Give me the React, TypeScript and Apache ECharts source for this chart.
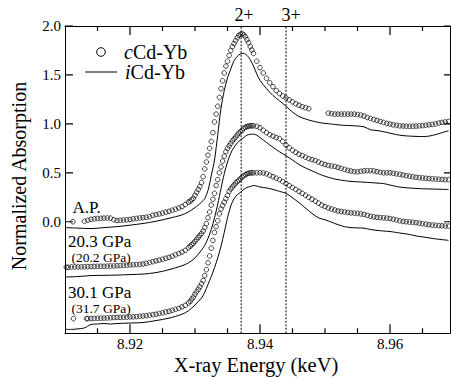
import React, { useEffect, useRef } from "react";
import * as echarts from "echarts";

const X_MIN = 8.91;
const X_MAX = 8.96923;
const Y_MIN = -1.14;
const Y_MAX = 2.0;
const X_MAJOR = [8.92, 8.94, 8.96];
const X_MINOR = [8.915, 8.925, 8.93, 8.935, 8.945, 8.95, 8.955, 8.965];
const Y_TICKS = [0, 0.5, 1, 1.5, 2];
const EDGES = [8.9371, 8.944];
const EDGE_LABELS = ["2+", "3+"];
const SAMPLE_LABELS = ["A.P.", "20.3 GPa", "(20.2 GPa)", "30.1 GPa", "(31.7 GPa)"];

// cCd-Yb (circles), ambient pressure
const AP_C = [
  [8.9112, 0.0],
  [8.913, 0.005], [8.9135, 0.015], [8.914, 0.025], [8.9145, 0.03], [8.915, 0.033], [8.9155, 0.035], [8.916, 0.037], [8.9165, 0.038], [8.917, 0.036], [8.9175, 0.02], [8.918, 0.012], [8.9185, 0.015], [8.919, 0.018], [8.9195, 0.02], [8.92, 0.024], [8.9205, 0.03], [8.921, 0.034], [8.9215, 0.038], [8.922, 0.042], [8.9225, 0.046], [8.923, 0.052], [8.9235, 0.065], [8.924, 0.073], [8.9245, 0.08], [8.925, 0.088], [8.9255, 0.097], [8.926, 0.107], [8.9265, 0.118], [8.927, 0.128], [8.9275, 0.14], [8.928, 0.155], [8.9285, 0.175],
  [8.929, 0.2], [8.92925, 0.21], [8.9295, 0.225], [8.92975, 0.24], [8.93, 0.27], [8.93025, 0.3], [8.9305, 0.33], [8.93075, 0.36], [8.931, 0.4], [8.93125, 0.46], [8.9315, 0.54], [8.93175, 0.61], [8.932, 0.68], [8.93225, 0.75], [8.9325, 0.82], [8.93275, 0.91], [8.933, 1.02], [8.93325, 1.1], [8.9335, 1.18], [8.93375, 1.27], [8.934, 1.36], [8.93425, 1.44], [8.9345, 1.52], [8.93475, 1.59], [8.935, 1.64], [8.93525, 1.7], [8.9355, 1.75], [8.93575, 1.79], [8.936, 1.82], [8.93625, 1.85], [8.9365, 1.88], [8.93675, 1.905], [8.937, 1.915], [8.93725, 1.92], [8.9375, 1.91], [8.93775, 1.89], [8.938, 1.86], [8.93825, 1.83], [8.9385, 1.79], [8.93875, 1.755], [8.939, 1.72],
  [8.9395, 1.64], [8.94, 1.575], [8.9405, 1.52], [8.941, 1.465], [8.9415, 1.42], [8.942, 1.38], [8.9425, 1.34], [8.943, 1.31], [8.9435, 1.285], [8.944, 1.265], [8.9445, 1.245], [8.945, 1.225], [8.9455, 1.205], [8.946, 1.19], [8.9465, 1.175], [8.947, 1.165], [8.9475, 1.155],
  [8.9505, 1.11], [8.951, 1.105], [8.9515, 1.1], [8.952, 1.1], [8.9525, 1.1], [8.953, 1.1], [8.9535, 1.1], [8.954, 1.1], [8.9545, 1.1], [8.955, 1.095], [8.9555, 1.09], [8.956, 1.08], [8.9565, 1.065], [8.957, 1.055], [8.9575, 1.045], [8.958, 1.035], [8.9585, 1.025], [8.959, 1.015], [8.9595, 1.005], [8.96, 0.998], [8.9605, 0.99], [8.961, 0.985], [8.9615, 0.98], [8.962, 0.978], [8.9625, 0.976], [8.963, 0.975], [8.9635, 0.975], [8.964, 0.977], [8.9645, 0.98], [8.965, 0.983], [8.9655, 0.986], [8.966, 0.99], [8.9665, 0.995], [8.967, 1.0], [8.9675, 1.008], [8.968, 1.015], [8.9685, 1.02], [8.969, 1.025],
];

// iCd-Yb (line), ambient pressure
const AP_I = [
  [8.91, -0.06], [8.912, -0.065], [8.914, -0.07], [8.916, -0.06], [8.918, -0.05], [8.92, -0.035], [8.922, -0.018], [8.924, 0.005], [8.926, 0.035], [8.928, 0.07], [8.929, 0.1], [8.93, 0.145], [8.9305, 0.17], [8.931, 0.2], [8.9315, 0.235], [8.932, 0.32], [8.9325, 0.47], [8.933, 0.63], [8.9335, 0.89], [8.934, 1.16], [8.9345, 1.34], [8.935, 1.47], [8.9355, 1.56], [8.936, 1.645], [8.9365, 1.69], [8.937, 1.715], [8.9375, 1.72], [8.938, 1.7], [8.9385, 1.655], [8.939, 1.59], [8.9395, 1.51], [8.94, 1.445], [8.941, 1.36], [8.942, 1.29], [8.943, 1.235], [8.944, 1.18], [8.945, 1.12], [8.946, 1.075], [8.947, 1.05], [8.948, 1.03], [8.949, 1.015], [8.95, 1.005], [8.951, 0.998], [8.952, 0.99], [8.953, 0.985], [8.954, 0.982], [8.955, 0.978], [8.956, 0.97], [8.957, 0.94], [8.958, 0.932], [8.959, 0.92], [8.96, 0.905], [8.961, 0.89], [8.962, 0.88], [8.963, 0.875], [8.964, 0.872], [8.965, 0.87], [8.966, 0.875], [8.967, 0.89], [8.968, 0.91], [8.969, 0.93],
];

// cCd-Yb (circles), 20.3 GPa
const P20_C = [
  [8.9102, -0.465], [8.9105, -0.465], [8.911, -0.463], [8.9115, -0.462], [8.912, -0.462], [8.9125, -0.461], [8.913, -0.46], [8.9135, -0.459], [8.914, -0.458], [8.9145, -0.457], [8.915, -0.456], [8.9155, -0.455], [8.916, -0.455], [8.9165, -0.454], [8.917, -0.453], [8.9175, -0.452], [8.918, -0.45], [8.9185, -0.448], [8.919, -0.446], [8.9195, -0.444], [8.92, -0.442], [8.9205, -0.44], [8.921, -0.438], [8.9215, -0.436], [8.922, -0.432], [8.9225, -0.425], [8.923, -0.417], [8.9235, -0.408], [8.924, -0.4], [8.9245, -0.392], [8.925, -0.383], [8.9255, -0.374], [8.926, -0.364], [8.9265, -0.352], [8.927, -0.338], [8.9275, -0.325], [8.928, -0.31], [8.9285, -0.293],
  [8.929, -0.265], [8.92925, -0.25], [8.9295, -0.235], [8.92975, -0.22], [8.93, -0.2], [8.93025, -0.18], [8.9305, -0.16], [8.93075, -0.14], [8.931, -0.12], [8.93125, -0.095], [8.9315, -0.06], [8.93175, -0.02], [8.932, 0.04], [8.93225, 0.1], [8.9325, 0.17], [8.93275, 0.23], [8.933, 0.29], [8.93325, 0.37], [8.9335, 0.43], [8.93375, 0.5], [8.934, 0.56], [8.93425, 0.62], [8.9345, 0.67], [8.93475, 0.715], [8.935, 0.75], [8.93525, 0.775], [8.9355, 0.8], [8.93575, 0.825], [8.936, 0.845], [8.93625, 0.865], [8.9365, 0.885], [8.93675, 0.905], [8.937, 0.92], [8.93725, 0.935], [8.9375, 0.955], [8.93775, 0.965], [8.938, 0.972], [8.93825, 0.978], [8.9385, 0.98], [8.93875, 0.98], [8.939, 0.98],
  [8.9395, 0.975], [8.94, 0.96], [8.9405, 0.935], [8.941, 0.91], [8.9415, 0.89], [8.942, 0.875], [8.9425, 0.86], [8.943, 0.85], [8.9435, 0.82], [8.944, 0.785], [8.9445, 0.755], [8.945, 0.73], [8.9455, 0.71], [8.946, 0.69], [8.9465, 0.675], [8.947, 0.66], [8.9475, 0.645], [8.948, 0.635], [8.9485, 0.625], [8.949, 0.61], [8.9495, 0.595], [8.95, 0.585], [8.9505, 0.575], [8.951, 0.57], [8.9515, 0.565], [8.952, 0.555], [8.9525, 0.545], [8.953, 0.535], [8.9535, 0.525], [8.954, 0.518], [8.9545, 0.512], [8.955, 0.51], [8.9555, 0.515], [8.956, 0.52], [8.9565, 0.522], [8.957, 0.522], [8.9575, 0.52], [8.958, 0.512], [8.9585, 0.505], [8.959, 0.5], [8.9595, 0.5], [8.96, 0.5], [8.9605, 0.495], [8.961, 0.49], [8.9615, 0.485], [8.962, 0.478], [8.9625, 0.47], [8.963, 0.465], [8.9635, 0.46], [8.964, 0.455], [8.9645, 0.45], [8.965, 0.447], [8.9655, 0.444], [8.966, 0.441], [8.9665, 0.438], [8.967, 0.436], [8.9675, 0.434], [8.968, 0.432], [8.9685, 0.43], [8.969, 0.43],
];

// iCd-Yb (line), 20.2 GPa
const P20_I = [
  [8.91, -0.565], [8.912, -0.56], [8.914, -0.55], [8.916, -0.548], [8.918, -0.545], [8.92, -0.54], [8.922, -0.535], [8.924, -0.52], [8.926, -0.49], [8.928, -0.45], [8.929, -0.42], [8.93, -0.37], [8.931, -0.29], [8.9315, -0.24], [8.932, -0.17], [8.9325, -0.08], [8.933, 0.04], [8.9335, 0.18], [8.934, 0.34], [8.9345, 0.49], [8.935, 0.61], [8.9355, 0.7], [8.936, 0.76], [8.9365, 0.805], [8.937, 0.835], [8.9375, 0.86], [8.938, 0.885], [8.9385, 0.893], [8.939, 0.895], [8.9395, 0.885], [8.94, 0.86], [8.941, 0.81], [8.942, 0.76], [8.943, 0.715], [8.944, 0.675], [8.945, 0.63], [8.946, 0.585], [8.947, 0.55], [8.948, 0.52], [8.949, 0.49], [8.95, 0.465], [8.951, 0.445], [8.952, 0.43], [8.953, 0.42], [8.954, 0.412], [8.955, 0.408], [8.956, 0.404], [8.957, 0.4], [8.958, 0.395], [8.959, 0.39], [8.96, 0.375], [8.961, 0.36], [8.962, 0.35], [8.963, 0.345], [8.964, 0.34], [8.965, 0.337], [8.966, 0.335], [8.967, 0.333], [8.968, 0.331], [8.969, 0.33],
];

// cCd-Yb (circles), 30.1 GPa
const P30_C = [
  [8.9113, -0.99],
  [8.9133, -0.99], [8.9135, -0.99], [8.914, -0.989], [8.9145, -0.988], [8.915, -0.987], [8.9155, -0.986], [8.916, -0.985], [8.9165, -0.983], [8.917, -0.981], [8.9175, -0.979], [8.918, -0.978], [8.9185, -0.977], [8.919, -0.976], [8.9195, -0.975], [8.92, -0.973], [8.9205, -0.971], [8.921, -0.969], [8.9215, -0.966], [8.922, -0.963], [8.9225, -0.96], [8.923, -0.955], [8.9235, -0.95], [8.924, -0.945], [8.9245, -0.938], [8.925, -0.93], [8.9255, -0.923], [8.926, -0.915], [8.9265, -0.905], [8.927, -0.895], [8.9275, -0.885], [8.928, -0.87], [8.9285, -0.855],
  [8.929, -0.83], [8.92925, -0.815], [8.9295, -0.79], [8.92975, -0.77], [8.93, -0.74], [8.93025, -0.715], [8.9305, -0.69], [8.93075, -0.665], [8.931, -0.635], [8.93125, -0.6], [8.9315, -0.55], [8.93175, -0.49], [8.932, -0.42], [8.93225, -0.35], [8.9325, -0.27], [8.93275, -0.19], [8.933, -0.11], [8.93325, -0.05], [8.9335, 0.01], [8.93375, 0.08], [8.934, 0.13], [8.93425, 0.165], [8.9345, 0.2], [8.93475, 0.235], [8.935, 0.27], [8.93525, 0.31], [8.9355, 0.335], [8.93575, 0.355], [8.936, 0.375], [8.93625, 0.395], [8.9365, 0.41], [8.93675, 0.425], [8.937, 0.44], [8.93725, 0.455], [8.9375, 0.47], [8.93775, 0.48], [8.938, 0.49], [8.93825, 0.495], [8.9385, 0.5], [8.93875, 0.5], [8.939, 0.5],
  [8.9395, 0.5], [8.94, 0.5], [8.9405, 0.498], [8.941, 0.49], [8.9415, 0.475], [8.942, 0.46], [8.9425, 0.445], [8.943, 0.43], [8.9435, 0.41], [8.944, 0.39], [8.9445, 0.37], [8.945, 0.35], [8.9455, 0.33], [8.946, 0.31], [8.9465, 0.29], [8.947, 0.27], [8.9475, 0.25], [8.948, 0.23], [8.9485, 0.21], [8.949, 0.19], [8.9495, 0.17], [8.95, 0.155], [8.9505, 0.14], [8.951, 0.13], [8.9515, 0.12], [8.952, 0.11], [8.9525, 0.105], [8.953, 0.1], [8.9535, 0.095], [8.954, 0.09], [8.9545, 0.088], [8.955, 0.085], [8.9555, 0.08], [8.956, 0.075], [8.9565, 0.065], [8.957, 0.055], [8.9575, 0.05], [8.958, 0.045], [8.9585, 0.042], [8.959, 0.04], [8.9595, 0.037], [8.96, 0.033], [8.9605, 0.025], [8.961, 0.018], [8.9615, 0.01], [8.962, 0.003], [8.9625, 0.0], [8.963, -0.003], [8.9635, -0.005], [8.964, -0.01], [8.9645, -0.015], [8.965, -0.02], [8.9655, -0.025], [8.966, -0.03], [8.9665, -0.034], [8.967, -0.037], [8.9675, -0.04], [8.968, -0.042], [8.9685, -0.044], [8.969, -0.045],
];

// iCd-Yb (line), 31.7 GPa
const P30_I = [
  [8.91, -1.1], [8.911, -1.1], [8.912, -1.095], [8.913, -1.085], [8.914, -1.05], [8.915, -1.045], [8.916, -1.04], [8.917, -1.045], [8.918, -1.04], [8.92, -1.035], [8.922, -1.03], [8.924, -1.01], [8.926, -0.985], [8.928, -0.945], [8.929, -0.91], [8.93, -0.85], [8.931, -0.78], [8.9315, -0.72], [8.932, -0.64], [8.9325, -0.56], [8.933, -0.47], [8.9335, -0.37], [8.934, -0.25], [8.9345, -0.11], [8.935, 0.04], [8.9355, 0.16], [8.936, 0.235], [8.9365, 0.275], [8.937, 0.3], [8.9375, 0.33], [8.938, 0.35], [8.9385, 0.36], [8.939, 0.37], [8.9395, 0.365], [8.94, 0.355], [8.941, 0.345], [8.942, 0.33], [8.943, 0.31], [8.944, 0.29], [8.945, 0.245], [8.946, 0.195], [8.947, 0.14], [8.948, 0.085], [8.949, 0.04], [8.95, 0.02], [8.951, -0.005], [8.952, -0.03], [8.953, -0.05], [8.954, -0.06], [8.955, -0.063], [8.956, -0.066], [8.957, -0.08], [8.958, -0.088], [8.959, -0.095], [8.96, -0.1], [8.961, -0.11], [8.962, -0.12], [8.963, -0.13], [8.964, -0.145], [8.965, -0.155], [8.966, -0.165], [8.967, -0.175], [8.968, -0.183], [8.969, -0.19],
];

const FONT = "'Liberation Serif', 'Times New Roman', Times, serif";
const BLACK = "#000";
const GRID = { left: 65, top: 26, width: 385, height: 307.3 };
// data units per pixel, used only for tick-mark lengths
const DY = (Y_MAX - Y_MIN) / GRID.height;
const DX = (X_MAX - X_MIN) / GRID.width;

function xAxisCfg(position: "top" | "bottom", labels: boolean) {
  return {
    type: "value",
    position,
    min: X_MIN,
    max: X_MAX,
    axisLine: { show: true, onZero: false, lineStyle: { color: BLACK, width: 1 } },
    axisTick: { show: false },
    axisLabel: labels
      ? { show: true, customValues: X_MAJOR, formatter: (v: number) => v.toFixed(2), color: BLACK, fontFamily: FONT, fontSize: 15, margin: 3 }
      : { show: false },
    splitLine: { show: false },
  };
}

function yAxisCfg(position: "left" | "right", labels: boolean) {
  return {
    type: "value",
    position,
    min: Y_MIN,
    max: Y_MAX,
    axisLine: { show: true, onZero: false, lineStyle: { color: BLACK, width: 1 } },
    axisTick: { show: false },
    axisLabel: labels
      ? { show: true, customValues: Y_TICKS, formatter: (v: number) => v.toFixed(1), color: BLACK, fontFamily: FONT, fontSize: 15, margin: 4 }
      : { show: false },
    splitLine: { show: false },
  };
}

const circleSeries = (data: number[][]) => ({
  type: "scatter",
  name: "cCd-Yb",
  data,
  symbol: "circle",
  symbolSize: 4.6,
  itemStyle: { color: "rgba(0,0,0,0)", borderColor: BLACK, borderWidth: 0.9 },
  silent: true,
});

const lineSeries = (data: number[][]) => ({
  type: "line",
  name: "iCd-Yb",
  data,
  showSymbol: false,
  smooth: 0.3,
  lineStyle: { color: BLACK, width: 1 },
  silent: true,
});

const edgeSeries = (v: number) => ({
  type: "line",
  name: "edge",
  data: [[v, Y_MIN], [v, Y_MAX]],
  showSymbol: false,
  lineStyle: { color: BLACK, width: 1, type: [2, 1.5] },
  silent: true,
});

// inward tick marks on all four sides, as broken line segments
const xTick = (v: number, len: number) => [
  [v, Y_MIN], [v, Y_MIN + len * DY], [v, null],
  [v, Y_MAX], [v, Y_MAX - len * DY], [v, null],
];
const yTick = (v: number) => [
  [X_MIN, v], [X_MIN + 8 * DX, v], [null, v],
  [X_MAX, v], [X_MAX - 6 * DX, v], [null, v],
];
const tickSeries = (data: any[]) => ({
  type: "line",
  name: "ticks",
  data,
  showSymbol: false,
  connectNulls: false,
  clip: false,
  z: 6,
  lineStyle: { color: BLACK, width: 1.2 },
  silent: true,
});

export default function App() {
  const ref = useRef<HTMLDivElement>(null);
  useEffect(() => {
    if (!ref.current) return;
    const chart = echarts.init(ref.current, null, { renderer: "svg" });
    chart.setOption({
      animation: false,
      backgroundColor: "#fff",
      grid: { ...GRID, containLabel: false },
      xAxis: [xAxisCfg("bottom", true), xAxisCfg("top", false)],
      yAxis: [yAxisCfg("left", true), yAxisCfg("right", false)],
      series: [
        ...EDGES.map(edgeSeries),
        lineSeries(AP_I),
        lineSeries(P20_I),
        lineSeries(P30_I),
        circleSeries(AP_C),
        circleSeries(P20_C),
        circleSeries(P30_C),
        tickSeries([...X_MAJOR.flatMap((v) => xTick(v, 9)), ...X_MINOR.flatMap((v) => xTick(v, 5))]),
        tickSeries(Y_TICKS.flatMap(yTick)),
      ],
    });

    const edgeX = (v: number) => {
      const n = Number(chart.convertToPixel({ xAxisIndex: 0 }, v) as any);
      return isFinite(n) ? n : GRID.left + (v - X_MIN) / DX;
    };
    const txt = (text: string, x: number, y: number, size: number, extra: any = {}) => ({
      type: "text",
      x,
      y,
      silent: true,
      style: { text, fill: BLACK, fontFamily: FONT, fontSize: size, verticalAlign: "middle", align: "left", ...extra },
    });
    const rich = { i: { fontStyle: "italic", fontFamily: FONT, fontSize: 20 } };
    chart.setOption({
      graphic: [
        txt(EDGE_LABELS[0], edgeX(EDGES[0]) + 3, 15, 18, { align: "center" }),
        txt(EDGE_LABELS[1], edgeX(EDGES[1]) + 5, 15, 18, { align: "center" }),
        { type: "circle", silent: true, shape: { cx: 101, cy: 52, r: 4.3 }, style: { fill: "none", stroke: BLACK, lineWidth: 1 } },
        txt("{i|c}Cd-Yb", 124, 52, 20, { rich }),
        { type: "line", silent: true, shape: { x1: 85, y1: 72, x2: 117, y2: 72 }, style: { stroke: BLACK, lineWidth: 1 } },
        txt("{i|i}Cd-Yb", 125, 72, 20, { rich }),
        txt(SAMPLE_LABELS[0], 72.5, 207, 17, { lineHeight: 16 }),
        txt(SAMPLE_LABELS[1], 68, 241.5, 17, { lineHeight: 15 }),
        txt(SAMPLE_LABELS[2], 71.5, 257, 13.5, { lineHeight: 13 }),
        txt(SAMPLE_LABELS[3], 68, 292, 17, { lineHeight: 15 }),
        txt(SAMPLE_LABELS[4], 71.5, 308, 13.5, { lineHeight: 13 }),
        txt("X-ray Energy (keV)", 256, 364.5, 20.5, { align: "center", lineHeight: 16 }),
        { type: "text", silent: true, x: 18.5, y: 176, rotation: Math.PI / 2, style: { text: "Normalized Absorption", fill: BLACK, fontFamily: FONT, fontSize: 20, align: "center", verticalAlign: "middle" } },
      ],
    });
    return () => chart.dispose();
  }, []);
  return <div ref={ref} style={{ position: "fixed", left: 0, top: 0, width: 451, height: 377, background: "#fff" }} />;
}
